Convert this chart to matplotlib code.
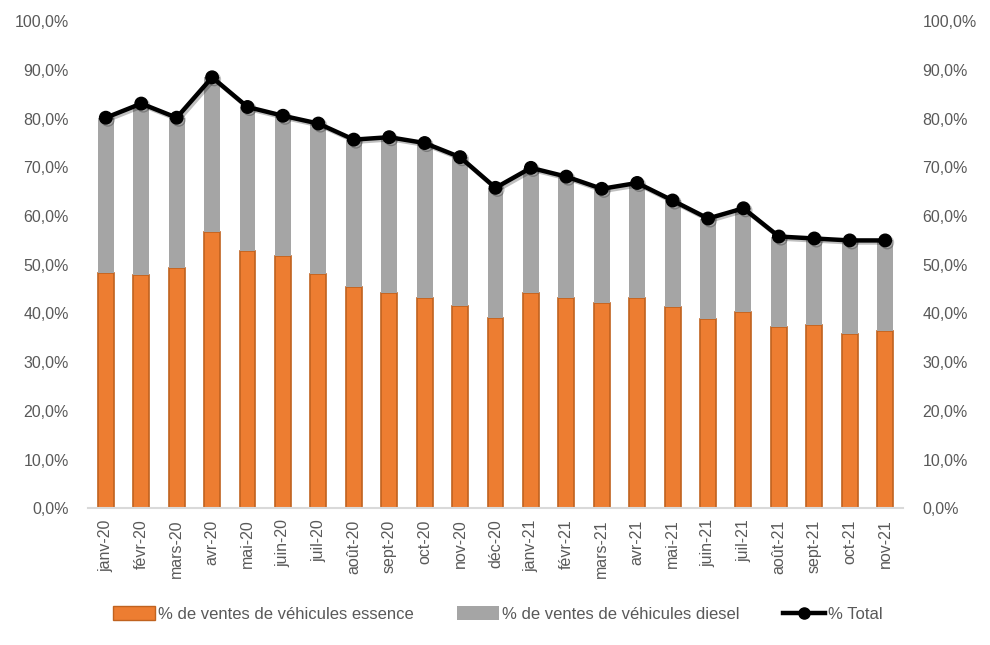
import matplotlib
matplotlib.use("Agg")
from matplotlib import pyplot as plt
from matplotlib.ticker import FuncFormatter, MultipleLocator
from matplotlib.lines import Line2D
from matplotlib.patches import Patch
import matplotlib.patheffects as pe

months = ['janv-20', 'févr-20', 'mars-20', 'avr-20', 'mai-20', 'juin-20', 'juil-20',
          'août-20', 'sept-20', 'oct-20', 'nov-20', 'déc-20', 'janv-21', 'févr-21',
          'mars-21', 'avr-21', 'mai-21', 'juin-21', 'juil-21', 'août-21', 'sept-21',
          'oct-21', 'nov-21']
essence = [48.3, 47.9, 49.4, 56.8, 52.9, 51.9, 48.2, 45.5, 44.2, 43.2, 41.6, 39.1,
           44.2, 43.2, 42.2, 43.2, 41.4, 38.8, 40.3, 37.3, 37.7, 35.7, 36.3]
total = [80.2, 83.1, 80.2, 88.5, 82.4, 80.6, 79.0, 75.7, 76.2, 75.0, 72.1, 65.8,
         69.9, 68.1, 65.6, 66.8, 63.2, 59.5, 61.6, 55.8, 55.4, 55.0, 55.0]
diesel = [t - e for t, e in zip(total, essence)]

orange = '#ED7D31'
orange_edge = '#C0621F'
grey = '#A5A5A5'
txt = '#595959'

plt.rcParams['font.family'] = ['Liberation Sans', 'DejaVu Sans']

fig = plt.figure(figsize=(9.9, 6.45), dpi=100)
ax = fig.add_axes([0.089, 0.212, 0.823, 0.755])
x = list(range(len(months)))

ax.bar(x, essence, width=0.45, color=orange, edgecolor=orange_edge, linewidth=1.2, zorder=2)
ax.bar(x, diesel, bottom=essence, width=0.45, color=grey, zorder=2)

ax2 = ax.twinx()
ax2.plot(x, total, color='k', lw=3.2, marker='o', markersize=9, zorder=3,
         path_effects=[pe.SimpleLineShadow(offset=(1.5, -1.5), alpha=0.25), pe.Normal()])

fmt = FuncFormatter(lambda v, p: ('%.1f%%' % v).replace('.', ','))
for a in (ax, ax2):
    a.set_ylim(0, 100)
    a.set_xlim(-0.5, len(months) - 0.5)
    a.yaxis.set_major_locator(MultipleLocator(10))
    a.yaxis.set_major_formatter(fmt)
    for s in a.spines.values():
        s.set_visible(False)
    a.tick_params(axis='y', length=0, labelsize=11.5, colors=txt, pad=14)

ax.spines['bottom'].set_visible(True)
ax.spines['bottom'].set_color('#D9D9D9')
ax.spines['bottom'].set_linewidth(1.5)
ax.set_xticks(x)
ax.set_xticklabels(months, rotation=90)
ax.tick_params(axis='x', length=0, labelsize=11.5, colors=txt, pad=8)

handles = [Patch(facecolor=orange, edgecolor=orange_edge, label='% de ventes de véhicules essence'),
           Patch(facecolor=grey, label='% de ventes de véhicules diesel'),
           Line2D([], [], color='k', lw=3.2, marker='o', markersize=8, label='% Total')]
leg = fig.legend(handles=handles, loc='center', bbox_to_anchor=(0.503, 0.048), ncol=3,
                 frameon=False, fontsize=12, handlelength=2.5, handleheight=0.9,
                 columnspacing=2.6, handletextpad=0.2)
for t in leg.get_texts():
    t.set_color(txt)

fig.savefig('out.png', dpi=100)
